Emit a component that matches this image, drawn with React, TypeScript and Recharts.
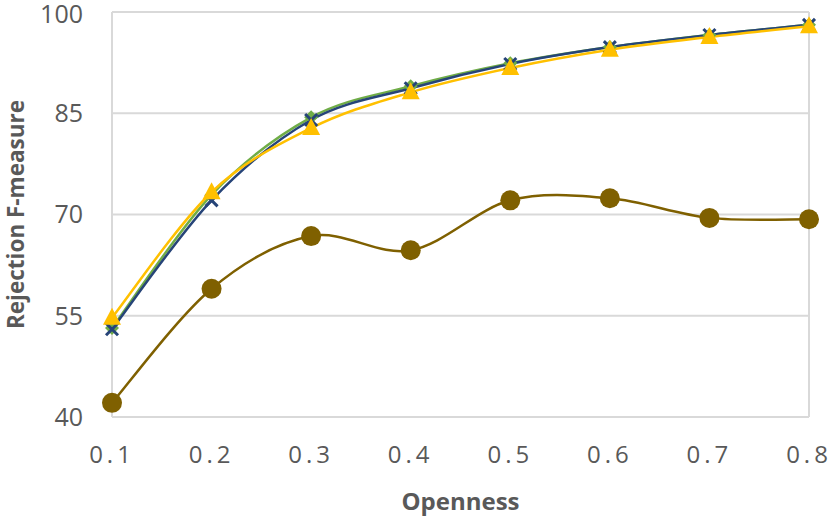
import React from 'react';
import { LineChart, Line, XAxis, YAxis, CartesianGrid, ReferenceLine } from 'recharts';

const openness = [0.1, 0.2, 0.3, 0.4, 0.5, 0.6, 0.7, 0.8];
const greenSeries = [53.2, 72.9, 84.4, 89.0, 92.4, 94.8, 96.6, 98.1];
const blueSeries = [53.0, 72.1, 84.0, 88.7, 92.3, 94.8, 96.6, 98.1];
const yellowSeries = [54.7, 73.3, 82.8, 88.1, 91.7, 94.4, 96.3, 97.9];
const brownSeries = [42.1, 59.0, 66.8, 64.7, 72.1, 72.4, 69.5, 69.3];
const yTicks = [40, 55, 70, 85, 100];

const data = openness.map((x, i) => ({
  x,
  green: greenSeries[i],
  blue: blueSeries[i],
  yellow: yellowSeries[i],
  brown: brownSeries[i],
}));

// Catmull-Rom style smoothing (similar to Excel smoothed lines)
const smoothCurve = (context: any) => {
  let pts: number[][] = [];
  return {
    areaStart() {},
    areaEnd() {},
    lineStart() {
      pts = [];
    },
    point(x: number, y: number) {
      pts.push([+x, +y]);
    },
    lineEnd() {
      if (!pts.length) return;
      context.moveTo(pts[0][0], pts[0][1]);
      for (let i = 0; i < pts.length - 1; i++) {
        const p0 = pts[i - 1] || pts[i];
        const p1 = pts[i];
        const p2 = pts[i + 1];
        const p3 = pts[i + 2] || pts[i + 1];
        const c1x = p1[0] + (p2[0] - p0[0]) / 6;
        const c1y = p1[1] + (p2[1] - p0[1]) / 6;
        const c2x = p2[0] - (p3[0] - p1[0]) / 6;
        const c2y = p2[1] - (p3[1] - p1[1]) / 6;
        context.bezierCurveTo(c1x, c1y, c2x, c2y, p2[0], p2[1]);
      }
    },
  };
};

const Diamond = (props: any) => {
  const { cx, cy } = props;
  const s = 7;
  return <path d={`M${cx},${cy - s}L${cx + s},${cy}L${cx},${cy + s}L${cx - s},${cy}Z`} fill="#70AD47" />;
};

const Cross = (props: any) => {
  const { cx, cy } = props;
  const s = 6;
  return (
    <path
      d={`M${cx - s},${cy - s}L${cx + s},${cy + s}M${cx + s},${cy - s}L${cx - s},${cy + s}`}
      stroke="#264478"
      strokeWidth={3}
      fill="none"
    />
  );
};

const Triangle = (props: any) => {
  const { cx, cy } = props;
  return <path d={`M${cx},${cy - 10}L${cx + 9},${cy + 7}L${cx - 9},${cy + 7}Z`} fill="#FFC000" />;
};

const Circle = (props: any) => {
  const { cx, cy } = props;
  return <circle cx={cx} cy={cy} r={10} fill="#7F6000" />;
};

const textColor = '#595959';
const fontFamily = '"Open Sans", "Noto Sans", sans-serif';

export default function App() {
  return (
    <div style={{ position: 'absolute', left: 0, top: 0, background: '#fff' }}>
      <LineChart width={830} height={518} data={data} margin={{ top: 12, right: 21, left: 0, bottom: 0 }}>
        <CartesianGrid vertical={false} stroke="#d9d9d9" strokeWidth={2} />
        <ReferenceLine x={0.8} stroke="#d9d9d9" strokeWidth={2} />
        <XAxis
          dataKey="x"
          type="number"
          domain={[0.1, 0.8]}
          ticks={openness}
          height={101}
          tickSize={0}
          tickMargin={29}
          axisLine={{ stroke: '#d9d9d9', strokeWidth: 2 }}
          tickLine={false}
          tick={{ fill: textColor, fontSize: 24, fontFamily, letterSpacing: 4 }}
          tickFormatter={(v: number) => v.toFixed(1)}
          label={(props: any) => {
            const vb = props.viewBox || { x: 112, width: 697 };
            return (
              <text
                x={vb.x + vb.width / 2}
                y={500}
                textAnchor="middle"
                dominantBaseline="central"
                fill={textColor}
                fontSize={24}
                fontWeight="bold"
                fontFamily={fontFamily}
              >
                Openness
              </text>
            );
          }}
        />
        <YAxis
          type="number"
          domain={[40, 100]}
          ticks={yTicks}
          width={112}
          tickSize={0}
          tickMargin={29}
          axisLine={{ stroke: '#d9d9d9', strokeWidth: 2 }}
          tickLine={false}
          tick={{ fill: textColor, fontSize: 25, fontFamily }}
          label={(props: any) => {
            const vb = props.viewBox || { y: 12, height: 405 };
            const cy = vb.y + vb.height / 2;
            return (
              <text
                x={15}
                y={cy}
                transform={`rotate(-90, 15, ${cy})`}
                textAnchor="middle"
                dominantBaseline="central"
                fill={textColor}
                fontSize={22.5}
                fontWeight="bold"
                fontFamily={fontFamily}
              >
                Rejection F-measure
              </text>
            );
          }}
        />
        <Line dataKey="brown" type={smoothCurve as any} stroke="#7F6000" strokeWidth={2.5} dot={<Circle />} isAnimationActive={false} />
        <Line dataKey="green" type={smoothCurve as any} stroke="#70AD47" strokeWidth={2.5} dot={<Diamond />} isAnimationActive={false} />
        <Line dataKey="blue" type={smoothCurve as any} stroke="#264478" strokeWidth={2.5} dot={<Cross />} isAnimationActive={false} />
        <Line dataKey="yellow" type={smoothCurve as any} stroke="#FFC000" strokeWidth={2.5} dot={<Triangle />} isAnimationActive={false} />
      </LineChart>
    </div>
  );
}
